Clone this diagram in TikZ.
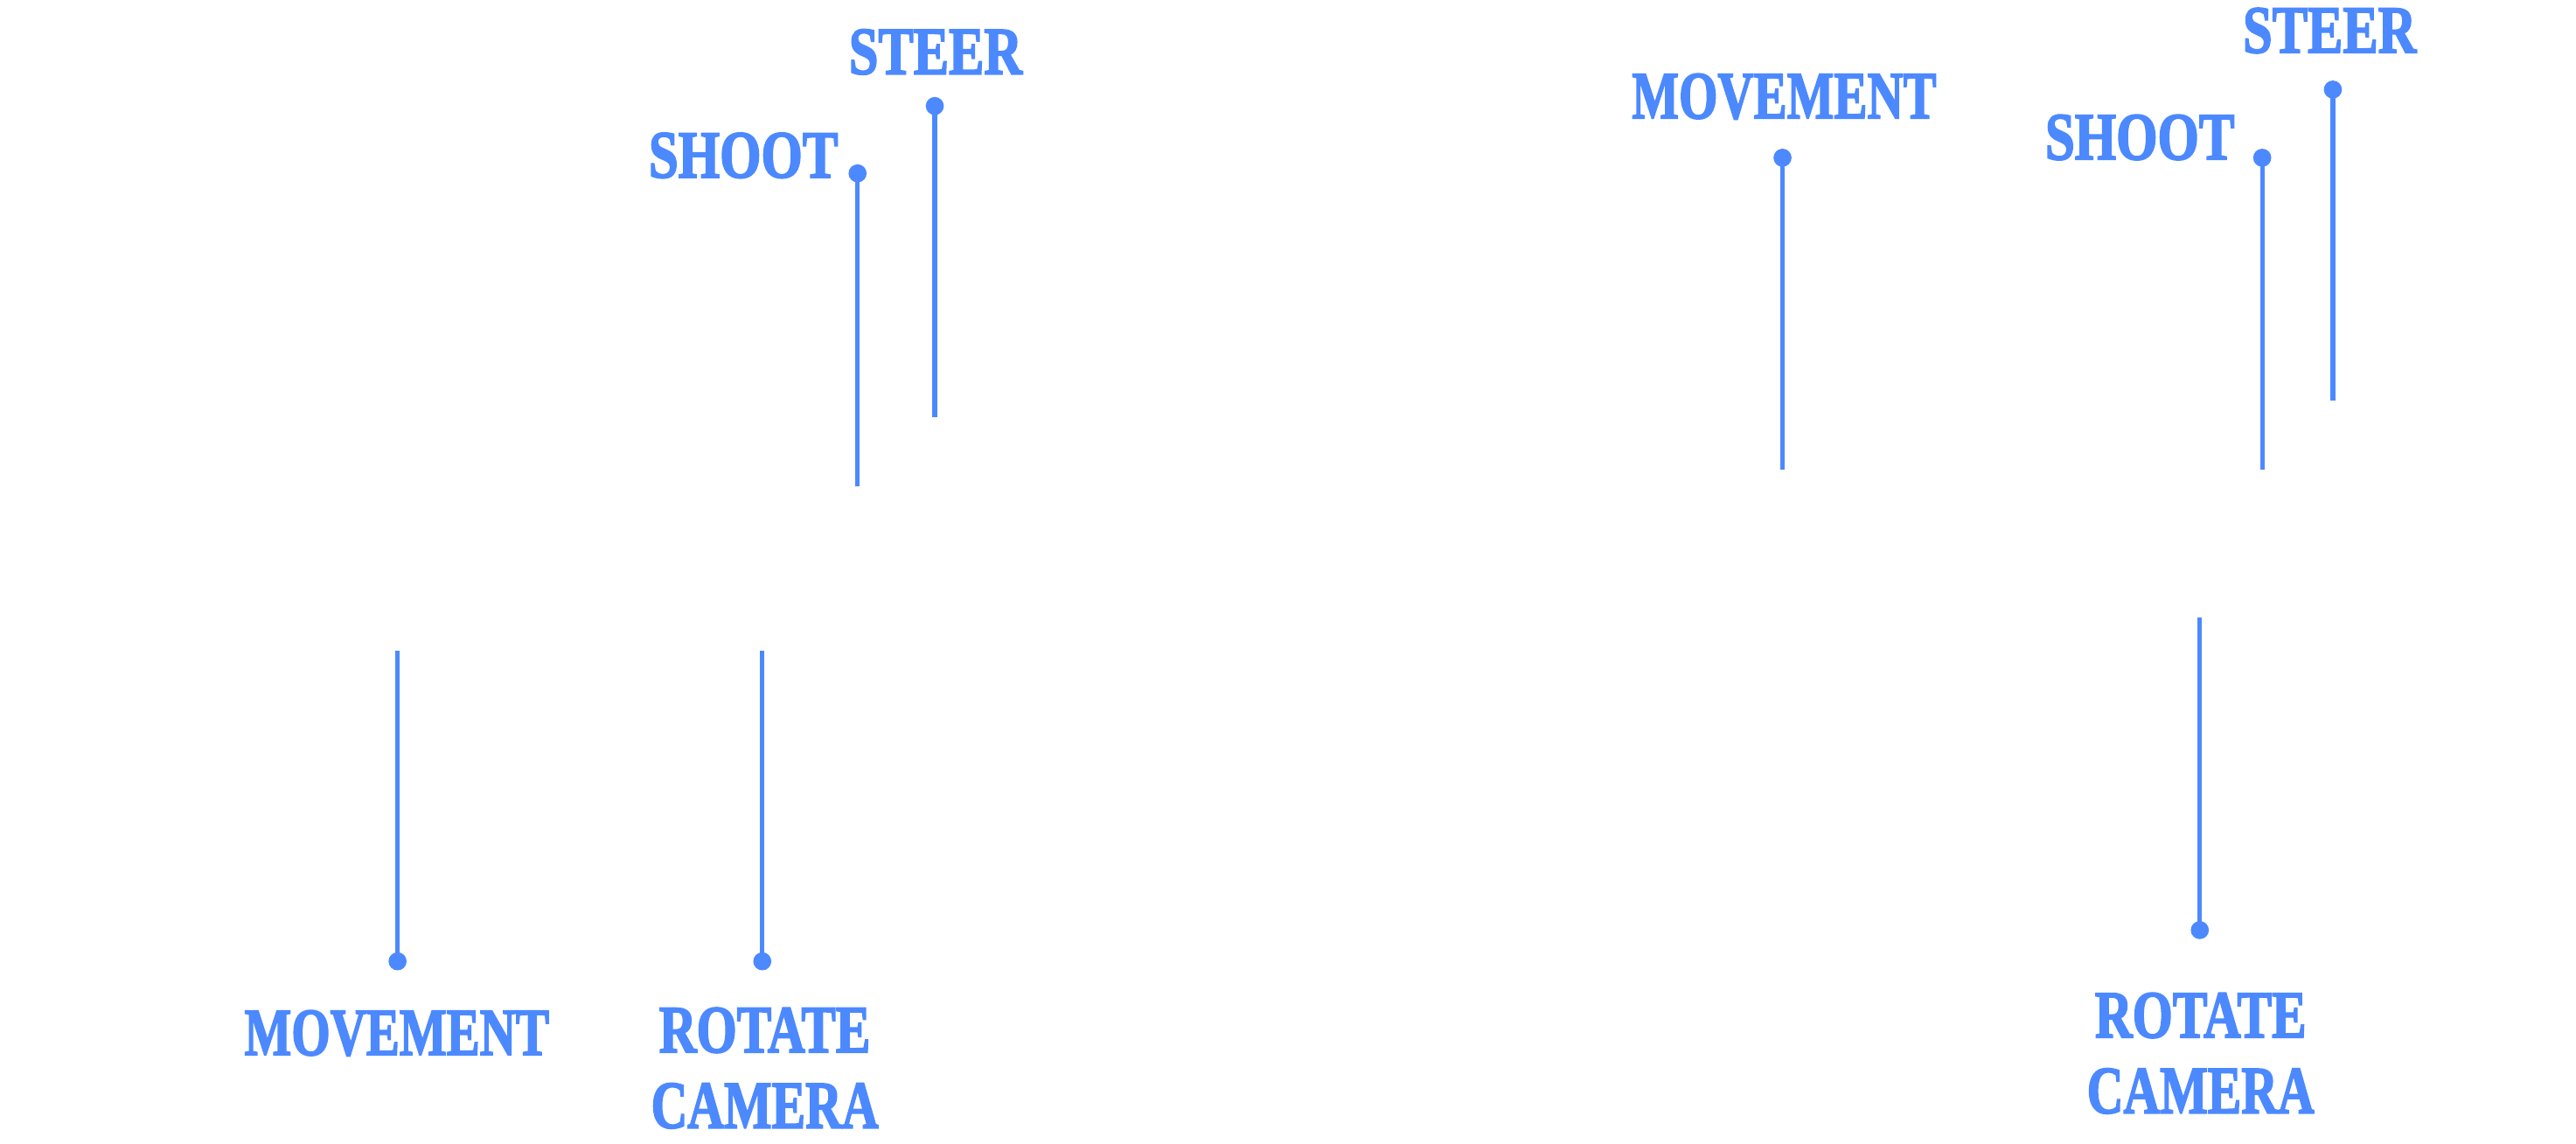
\documentclass[tikz,border=0pt]{standalone}
\usepackage{fontspec}
\newfontfamily\lblfont{Liberation Serif Bold}[FakeBold=2.5]
\definecolor{cblue}{RGB}{76,137,255}
\newcommand{\nar}[2][0.74]{\scalebox{#1}[1]{#2}}
\tikzset{
  lbl/.style={text=cblue, font=\lblfont\fontsize{41}{46}\selectfont, inner sep=0pt, anchor=base},
  lbltwo/.style={lbl, anchor=north, align=center},
  pin/.style={circle, fill=cblue, inner sep=0pt, minimum size=11pt},
  stem/.style={draw=cblue, line width=2.8pt},
}
\begin{document}
\begin{tikzpicture}[x=1pt,y=-1pt]
\useasboundingbox (0,0) rectangle (1568,696);
% ---------- left ----------
\node[lbl] (lshootT) at (452.5,108) {\nar[0.79]{SHOOT}};
\node[lbl] (lsteerT) at (569.5,45) {\nar[0.785]{STEER}};
\node[lbl] (lmoveT) at (241.5,642) {\nar{MOVEMENT}};
\node[lbltwo] (lrotT) at (465.5,613) {\nar[0.77]{ROTATE}\\\nar[0.75]{CAMERA}};
\node[pin] (lshootP) at (522,105.5) {};
\node[pin] (lsteerP) at (569,64.5) {};
\node[pin] (lmoveP) at (242,585) {};
\node[pin] (lrotP) at (464,585) {};
\coordinate (lshootE) at (522,296);
\coordinate (lsteerE) at (569,254);
\coordinate (lmoveE) at (242,396);
\coordinate (lrotE) at (464,396);
\draw[stem] (lshootP.center) -- (lshootE);
\draw[stem] (lsteerP.center) -- (lsteerE);
\draw[stem] (lmoveP.center) -- (lmoveE);
\draw[stem] (lrotP.center) -- (lrotE);
% ---------- right ----------
\node[lbl] (rmoveT) at (1086,72) {\nar{MOVEMENT}};
\node[lbl] (rshootT) at (1302.5,97) {\nar[0.79]{SHOOT}};
\node[lbl] (rsteerT) at (1418,32) {\nar[0.785]{STEER}};
\node[lbltwo] (rrotT) at (1339.5,604) {\nar[0.77]{ROTATE}\\\nar[0.75]{CAMERA}};
\node[pin] (rmoveP) at (1085,96) {};
\node[pin] (rshootP) at (1377,96) {};
\node[pin] (rsteerP) at (1420,54.5) {};
\node[pin] (rrotP) at (1339,566) {};
\coordinate (rmoveE) at (1085,286);
\coordinate (rshootE) at (1377,286);
\coordinate (rsteerE) at (1420,244);
\coordinate (rrotE) at (1339,376);
\draw[stem] (rmoveP.center) -- (rmoveE);
\draw[stem] (rshootP.center) -- (rshootE);
\draw[stem] (rsteerP.center) -- (rsteerE);
\draw[stem] (rrotP.center) -- (rrotE);
\end{tikzpicture}
\end{document}
